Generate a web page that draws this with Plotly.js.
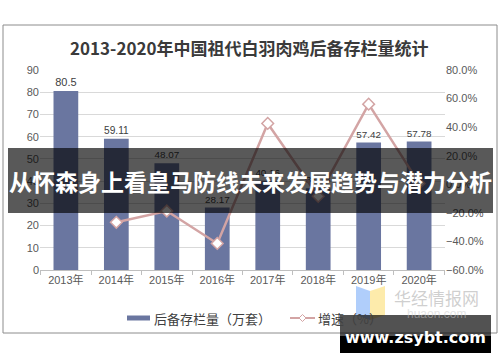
<!DOCTYPE html>
<html>
<head>
<meta charset="utf-8">
<script src="https://cdn.plot.ly/plotly-3.0.1.min.js"></script>
<style>html,body{margin:0;padding:0;background:#fff;}#chart{width:500px;height:362px;}</style>
</head>
<body>
<div id="chart"></div>
<script>
const years = ["2013年","2014年","2015年","2016年","2017年","2018年","2019年","2020年"];
const stock = [80.5, 59.11, 48.07, 28.17, 40.16, 36.78, 57.42, 57.78];
const growth = [null, -26.6, -18.7, -41.4, 42.6, -8.4, 56.1, 0.6];
const stockName = "后备存栏量（万套）";
const growthName = "增速（%）";
const titleText = "2013-2020年中国祖代白羽肉鸡后备存栏量统计";
const bannerText = "从怀森身上看皇马防线未来发展趋势与潜力分析";

const barColor = "#6a76a0";
const lineColor = "#d3a4a4";
const txt = "#595959";
const font = "Liberation Sans, Arial, Noto Sans CJK SC, sans-serif";
const cjk = "Noto Sans CJK SC, sans-serif";

// pixel -> paper helpers (plot area x 40..445, y 70..270)
const px = x => (x - 40) / 405;
const py = y => (270 - y) / 200;

const traces = [
  {
    type: "bar", x: years, y: stock, name: stockName,
    marker: {color: barColor}, width: 0.49,
    text: stock.map(v => String(v)), textposition: "outside", cliponaxis: false,
    textfont: {family: font, size: 11, color: "#404040"},
    hoverinfo: "x+y", showlegend: false
  },
  {
    type: "scatter", mode: "lines+markers", x: years, y: growth, yaxis: "y2", name: growthName,
    line: {color: lineColor, width: 2.5},
    marker: {symbol: "diamond", size: 9, color: "#ffffff", line: {color: lineColor, width: 1.5}},
    connectgaps: false, showlegend: false
  }
];

const shapes = [
  {type: "rect", xref: "paper", yref: "paper", x0: px(3), x1: px(497), y0: py(333), y1: py(25),
   line: {color: "#8c8c8c", width: 1}, fillcolor: "rgba(0,0,0,0)", layer: "below"},
  {type: "line", xref: "paper", yref: "paper", x0: px(127), x1: px(150), y0: py(318), y1: py(318),
   line: {color: barColor, width: 5}},
  {type: "line", xref: "paper", yref: "paper", x0: px(290), x1: px(315), y0: py(318), y1: py(318),
   line: {color: lineColor, width: 2}},
  {type: "path", xref: "paper", yref: "paper",
   path: `M ${px(302.5)} ${py(314.5)} L ${px(306)} ${py(318)} L ${px(302.5)} ${py(321.5)} L ${px(299)} ${py(318)} Z`,
   fillcolor: "#ffffff", line: {color: lineColor, width: 1}},
  {type: "path", xref: "paper", yref: "paper",
   path: `M ${px(356)} ${py(286)} L ${px(370)} ${py(291)} L ${px(370)} ${py(320)} L ${px(356)} ${py(315)} Z`,
   fillcolor: "rgba(150,190,250,0.75)", line: {width: 0}},
  {type: "path", xref: "paper", yref: "paper",
   path: `M ${px(370)} ${py(291)} L ${px(385)} ${py(286)} L ${px(385)} ${py(315)} L ${px(370)} ${py(320)} Z`,
   fillcolor: "rgba(252,230,150,0.8)", line: {width: 0}},
  {type: "rect", xref: "paper", yref: "paper", x0: px(8), x1: px(493), y0: py(213), y1: py(148),
   fillcolor: "rgba(0,0,0,0.65)", line: {width: 0}, layer: "above"},
  {type: "rect", xref: "paper", yref: "paper", x0: px(340), x1: px(491), y0: py(336), y1: py(315),
   fillcolor: "rgba(0,0,0,0.68)", line: {width: 0}, layer: "above"},
  {type: "rect", xref: "paper", yref: "paper", x0: px(340), x1: px(491), y0: py(353), y1: py(336),
   fillcolor: "#000000", line: {width: 0}, layer: "above"}
];

function ann(text, x, y, f, xanchor) {
  return {text: text, xref: "paper", yref: "paper", x: px(x), y: py(y),
          xanchor: xanchor || "center", yanchor: "middle", showarrow: false, font: f};
}

const annotations = [
  ann("<b>" + titleText + "</b>", 249, 47, {family: cjk, size: 17, color: "#3a3a3a"}),
  ann(stockName, 152, 318, {family: cjk, size: 13, color: "#404040"}, "left"),
  ann(growthName, 316, 318, {family: cjk, size: 13, color: "#404040"}, "left"),
  ann("华经情报网", 436, 297, {family: cjk, size: 17, color: "rgba(175,175,175,0.6)"}),
  ann("huaon.com", 436, 314, {family: font, size: 12, color: "rgba(200,200,200,0.5)"}),
  ann("<b>" + bannerText + "</b>", 250, 181, {family: cjk, size: 23, color: "#ffffff"}),
  ann("<b>www.zsybt.com</b>", 415, 337, {family: "DejaVu Sans, sans-serif", size: 16, color: "#ffffff"})
];

const layout = {
  width: 500, height: 362,
  margin: {l: 40, r: 55, t: 70, b: 92},
  paper_bgcolor: "#ffffff", plot_bgcolor: "#ffffff",
  showlegend: false,
  xaxis: {
    type: "category", tickson: "boundaries", ticks: "outside", ticklen: 4, tickcolor: "#bfbfbf",
    showline: true, linecolor: "#bfbfbf", linewidth: 1, showgrid: false,
    tickfont: {family: font, size: 11, color: txt}, fixedrange: true
  },
  yaxis: {
    range: [0, 90], dtick: 10, showgrid: true, gridcolor: "#d9d9d9", gridwidth: 1,
    zeroline: false, showline: false, ticks: "",
    tickfont: {family: font, size: 11, color: txt}, fixedrange: true
  },
  yaxis2: {
    overlaying: "y", side: "right", range: [-60, 80], dtick: 20,
    tickformat: ".1f", ticksuffix: "%", showgrid: false, zeroline: false, showline: false,
    tickfont: {family: font, size: 11, color: txt}, fixedrange: true
  },
  shapes: shapes,
  annotations: annotations
};

Plotly.newPlot("chart", traces, layout, {displayModeBar: false, staticPlot: true});
</script>
</body>
</html>
